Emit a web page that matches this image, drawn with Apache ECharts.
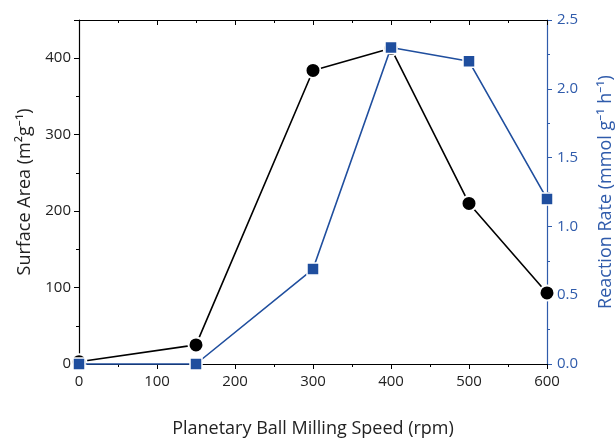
<!DOCTYPE html>
<html>
<head>
<meta charset="utf-8">
<script src="https://cdn.jsdelivr.net/npm/echarts@6/dist/echarts.min.js"></script>
<style>
  html, body { margin: 0; padding: 0; background: #fff; }
  #chart { width: 615px; height: 439px; }
</style>
</head>
<body>
<div id="chart"></div>
<script>
var speeds = [0, 150, 300, 400, 500, 600];
var surfaceArea = [3, 25, 384, 413, 210, 93];
var reactionRate = [0, 0, 0.69, 2.3, 2.2, 1.2];

var blue = '#1f4e9e';
var axisBlue = '#2f5bab';
var font = '"Open Sans", "Noto Sans", sans-serif';

function pairs(xs, ys) {
    return xs.map(function (x, i) { return [x, ys[i]]; });
}

var chart = echarts.init(document.getElementById('chart'));

var option = {
    backgroundColor: '#fff',
    animation: false,
    grid: { left: 79, right: 68, top: 20, bottom: 75, containLabel: false, outerBoundsMode: 'none' },
    xAxis: [{
        type: 'value',
        min: 0, max: 600, interval: 100,
        name: 'Planetary Ball Milling Speed (rpm)',
        nameLocation: 'middle',
        nameGap: 56,
        nameTextStyle: { fontFamily: font, fontSize: 18, color: '#222' },
        axisLine: { onZero: false, lineStyle: { color: '#000', width: 1.2 } },
        axisTick: { length: 5, lineStyle: { color: '#000' } },
        minorTick: { show: true, splitNumber: 2, length: 3, lineStyle: { color: '#000' } },
        axisLabel: { fontFamily: font, fontSize: 15, color: '#222', margin: 10 },
        splitLine: { show: false }
    }, {
        type: 'value',
        position: 'top',
        min: 0, max: 600, interval: 100,
        axisLine: { onZero: false, lineStyle: { color: '#000', width: 1.2 } },
        axisTick: { inside: true, length: 5, lineStyle: { color: '#000' } },
        minorTick: { show: true, splitNumber: 2, length: 3, lineStyle: { color: '#000' } },
        axisLabel: { show: false },
        splitLine: { show: false }
    }],
    yAxis: [{
        type: 'value',
        position: 'left',
        min: 0, max: 450, interval: 100,
        name: 'Surface Area (m²g⁻¹)',
        nameLocation: 'middle',
        nameGap: 39,
        nameTextStyle: { fontFamily: font, fontSize: 18, color: '#222' },
        axisLine: { show: true, onZero: false, lineStyle: { color: '#000', width: 1.2 } },
        axisTick: { show: true, length: 5, lineStyle: { color: '#000' } },
        minorTick: { show: true, splitNumber: 2, length: 3, lineStyle: { color: '#000' } },
        axisLabel: {
            fontFamily: font, fontSize: 15, color: '#222', margin: 8,
            showMaxLabel: false,
            formatter: function (v) { return v > 400 ? '' : v; }
        },
        splitLine: { show: false }
    }, {
        type: 'value',
        position: 'right',
        min: 0, max: 2.5, interval: 0.5,
        name: 'Reaction Rate (mmol g⁻¹ h⁻¹)',
        nameLocation: 'middle',
        nameGap: 50,
        nameRotate: 90,
        nameTextStyle: { fontFamily: font, fontSize: 18, color: axisBlue },
        axisLine: { show: true, onZero: false, lineStyle: { color: axisBlue, width: 1.2 } },
        axisTick: { show: true, length: 5, lineStyle: { color: axisBlue } },
        minorTick: { show: true, splitNumber: 2, length: 3, lineStyle: { color: axisBlue } },
        axisLabel: {
            fontFamily: font, fontSize: 15, color: axisBlue, margin: 10,
            formatter: function (v) { return v.toFixed(1); }
        },
        splitLine: { show: false }
    }],
    series: [{
        name: 'Surface Area',
        type: 'line',
        xAxisIndex: 0,
        yAxisIndex: 0,
        clip: false,
        data: pairs(speeds, surfaceArea),
        symbol: 'circle',
        symbolSize: 15,
        lineStyle: { color: '#000', width: 1.6 },
        itemStyle: { color: '#000', borderColor: '#fff', borderWidth: 2 },
        z: 2
    }, {
        name: 'Reaction Rate',
        type: 'line',
        xAxisIndex: 0,
        yAxisIndex: 1,
        clip: false,
        data: pairs(speeds, reactionRate),
        symbol: 'rect',
        symbolSize: 12,
        lineStyle: { color: blue, width: 1.6 },
        itemStyle: { color: blue, borderColor: '#fff', borderWidth: 1.5 },
        z: 3
    }]
};

chart.setOption(option);
</script>
</body>
</html>
